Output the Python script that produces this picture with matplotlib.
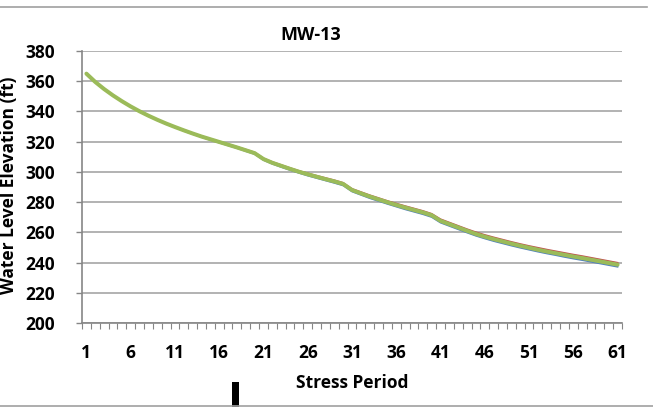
import matplotlib
matplotlib.use("Agg")
import matplotlib.pyplot as plt
from matplotlib.patches import Rectangle
from matplotlib.lines import Line2D

plt.rcParams['font.family'] = ['Open Sans', 'DejaVu Sans']
plt.rcParams['font.weight'] = 'bold'

# water level elevation (ft) per stress period
periods = list(range(1, 62))

green = [365.0, 359.5, 354.8, 350.6, 346.8, 343.3, 340.1, 337.2, 334.5, 332.0,
         329.7, 327.5, 325.4, 323.4, 321.6, 319.8, 318.0, 316.2, 314.3, 312.4,
         308.5, 306.0, 304.0, 302.0, 300.1, 298.4, 296.8, 295.2, 293.7, 292.0,
         288.0, 285.8, 283.7, 281.8, 279.9, 278.1, 276.4, 274.8, 273.2, 271.3,
         267.6, 265.4, 263.2, 261.0, 258.9, 257.1, 255.5, 254.0, 252.5, 251.1,
         249.8, 248.5, 247.3, 246.2, 245.1, 244.0, 243.0, 241.9, 240.8, 239.7,
         238.6]

red = [365.0, 359.5, 354.9, 350.7, 346.9, 343.4, 340.2, 337.4, 334.7, 332.2,
       329.9, 327.8, 325.7, 323.7, 321.9, 320.1, 318.4, 316.6, 314.8, 312.9,
       309.0, 306.6, 304.6, 302.6, 300.7, 299.1, 297.5, 296.0, 294.5, 292.8,
       288.8, 286.7, 284.6, 282.7, 280.8, 279.1, 277.4, 275.8, 274.2, 272.3,
       268.7, 266.5, 264.3, 262.1, 260.1, 258.3, 256.7, 255.2, 253.7, 252.3,
       251.0, 249.8, 248.6, 247.5, 246.4, 245.3, 244.3, 243.2, 242.1, 241.0,
       239.9]

blue = [365.0, 359.5, 354.7, 350.5, 346.7, 343.1, 339.9, 336.9, 334.2, 331.7,
        329.4, 327.1, 325.0, 323.0, 321.1, 319.3, 317.5, 315.7, 313.7, 311.8,
        307.8, 305.3, 303.2, 301.2, 299.3, 297.5, 295.9, 294.3, 292.7, 291.0,
        287.0, 284.8, 282.6, 280.7, 278.8, 277.0, 275.2, 273.6, 272.0, 270.1,
        266.4, 264.2, 262.0, 259.8, 257.7, 255.9, 254.2, 252.7, 251.2, 249.8,
        248.5, 247.2, 246.0, 244.9, 243.7, 242.6, 241.6, 240.5, 239.4, 238.3,
        237.2]

label_periods = periods[::5]
y_ticks = list(range(200, 381, 20))

fig = plt.figure(figsize=(6.53, 4.07), dpi=100)
ax = fig.add_axes([82 / 653, 1 - 323 / 407, 540 / 653, 272 / 407])

ax.plot(periods, red, color='#C0504D', lw=1.2, zorder=3)
ax.plot(periods, blue, color='#4F81BD', lw=1.2, zorder=3)
ax.plot(periods, green, color='#9BBB59', lw=2.9, zorder=4, solid_capstyle='round')

ax.set_xlim(0.5, 61.5)
ax.set_ylim(200, 380)
ax.set_yticks(y_ticks)
ax.set_xticks(label_periods)
ax.set_xticks([p - 0.5 for p in periods] + [61.5], minor=True)
ax.tick_params(axis='x', which='major', length=0, pad=15, labelsize=12.5)
ax.tick_params(axis='x', which='minor', length=4, width=0.8, color='#868686', direction='out')
ax.tick_params(axis='y', length=4.3, width=1, color='#868686', pad=15, labelsize=12.5)
ax.grid(axis='y', color='#a6a6a6', lw=1.2)
ax.set_axisbelow(True)

for side in ['top', 'right']:
    ax.spines[side].set_visible(False)
for side in ['left', 'bottom']:
    ax.spines[side].set_color('#868686')
    ax.spines[side].set_linewidth(1.2)

fig.text(352 / 653, 1 - 383 / 407, 'Stress Period', ha='center', va='center',
         fontsize=12.5, fontweight='bold')
fig.text(311 / 653, 1 - 35.5 / 407, 'MW-13', ha='center', va='center',
         fontsize=13, fontweight='bold')
fig.text(0, 1 - 185 / 407, 'Water Level Elevation (ft)', rotation=90,
         ha='left', va='center', fontsize=12.5, fontweight='bold')

# border lines of the chart area and the stray black mark
fig.add_artist(Line2D([0, 647 / 653], [1 - 6.5 / 407] * 2, color='#a0a0a0', lw=1.2))
fig.add_artist(Line2D([0, 1], [1 - 406 / 407] * 2, color='#a0a0a0', lw=1.2))
fig.add_artist(Rectangle((232 / 653, 0), 7 / 653, 25 / 407, color='black', lw=0))

fig.savefig('out.png', dpi=100)
